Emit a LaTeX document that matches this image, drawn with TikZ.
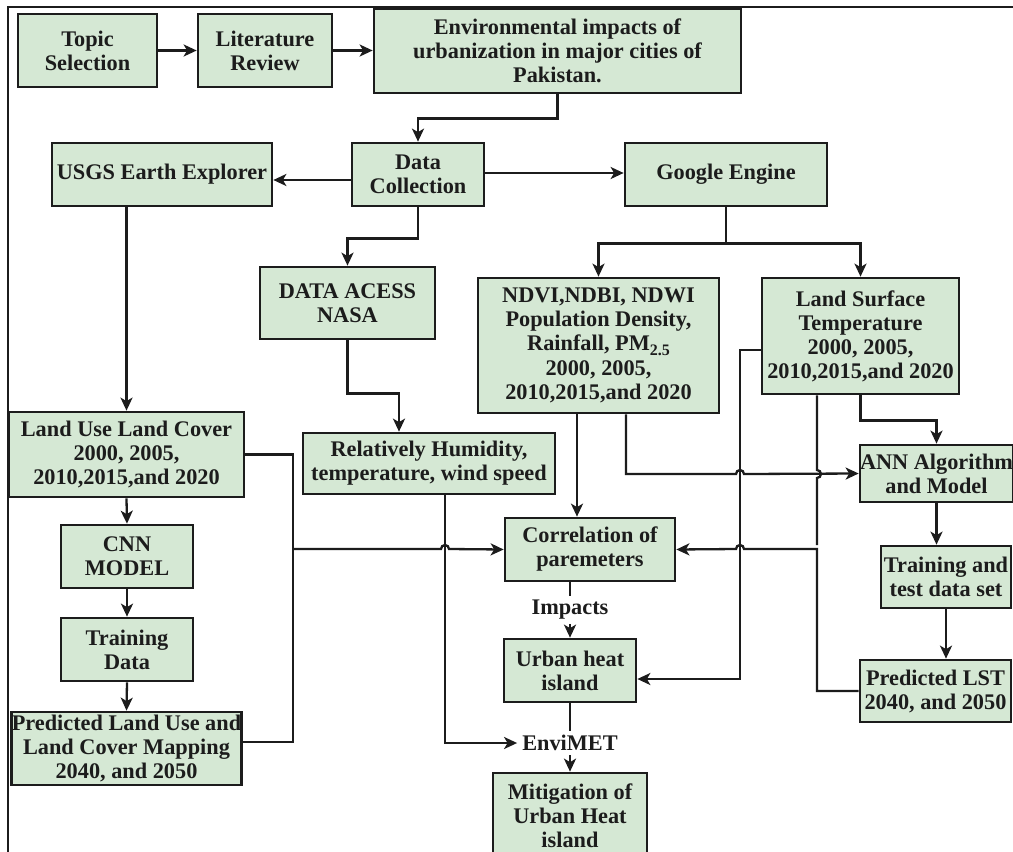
\documentclass[tikz,border=0pt]{standalone}
\usepackage{fontspec}
\setmainfont{Liberation Serif}
\usetikzlibrary{arrows.meta}
\definecolor{boxgreen}{HTML}{D5E8D4}
\definecolor{ink}{HTML}{1C1C1C}
\begin{document}
\begin{tikzpicture}[x=1pt,y=-1pt,
  box/.style={draw=ink, line width=2.7pt, fill=boxgreen, align=center, inner sep=0pt, text=ink,
    font=\fontsize{22.3}{24}\selectfont\bfseries},
  lbl/.style={fill=white, inner xsep=5pt, inner ysep=4pt, text=ink,
    font=\fontsize{22.3}{24}\selectfont\bfseries},
  wire/.style={draw=ink, line width=2.3pt},
  arr/.style={wire, -{Stealth[length=13pt,width=12pt,inset=3.5pt]}}]
\useasboundingbox (0,0) rectangle (1013,852);
\clip (0,0) rectangle (1013,852);
\fill[white] (0,0) rectangle (1013,852);
\draw[ink, line width=1.8pt] (1013,7) -- (8,7) -- (8,852);

% nodes
\node[box, minimum width=139pt, minimum height=73pt] (topic) at (87.5,50.5) {Topic\\Selection};
\node[box, minimum width=134pt, minimum height=73pt] (lit) at (265,50.5) {Literature\\Review};
\node[box, minimum width=367pt, minimum height=84pt] (env) at (557.5,51) {Environmental impacts of\\urbanization in major cities of\\Pakistan.};
\node[box, minimum width=132pt, minimum height=63pt] (dc) at (418,174.5) {Data\\Collection};
\node[box, minimum width=220pt, minimum height=63pt] (usgs) at (162,174.5) {USGS Earth Explorer};
\node[box, minimum width=202pt, minimum height=63pt] (ge) at (726,174.5) {Google Engine};
\node[box, minimum width=175pt, minimum height=72pt] (nasa) at (347.5,303) {DATA ACESS\\NASA};
\node[box, minimum width=241pt, minimum height=135pt] (ndvi) at (598.5,345.5) {NDVI,NDBI, NDWI\\Population Density,\\Rainfall, PM\raisebox{-5pt}{\fontsize{16}{16}\selectfont 2.5}\\[1pt]2000, 2005,\\2010,2015,and 2020};
\node[box, minimum width=197pt, minimum height=116pt] (lst) at (860.5,336) {Land Surface\\Temperature\\2000, 2005,\\2010,2015,and 2020};
\node[box, minimum width=252pt, minimum height=61pt] (rh) at (429,463.5) {Relatively Humidity,\\temperature, wind speed};
\node[box, minimum width=235pt, minimum height=85pt] (lulc) at (126.5,454.5) {Land Use Land Cover\\2000, 2005,\\2010,2015,and 2020};
\node[box, minimum width=151pt, minimum height=57pt] (ann) at (936.5,473.5) {ANN Algorithm\\and Model};
\node[box, minimum width=132pt, minimum height=63pt] (cnn) at (127,556.5) {CNN\\MODEL};
\node[box, minimum width=170pt, minimum height=63pt] (corr) at (590,549.5) {Correlation of\\paremeters};
\node[box, minimum width=130pt, minimum height=62pt] (train) at (946,577) {Training and\\test data set};
\node[box, minimum width=151pt, minimum height=62pt] (plst) at (935.5,691) {Predicted LST\\2040, and 2050};
\node[box, minimum width=132pt, minimum height=63pt] (tdata) at (127,649.5) {Training\\Data};
\node[box, minimum width=229pt, minimum height=73pt] (plulc) at (126.5,748.5) {Predicted Land Use and\\Land Cover Mapping\\2040, and 2050};
\node[box, minimum width=132pt, minimum height=63pt] (uhi) at (570,670.5) {Urban heat\\island};
\node[box, minimum width=154pt, minimum height=86pt] (mitig) at (570,816) {Mitigation of\\Urban Heat\\island};
\node[lbl] (imp) at (570,610) {Impacts};
\node[lbl] (envm) at (570,743) {EnviMET};

% connectors
\draw[arr] (topic.east) -- (lit.west);
\draw[arr] (lit.east) -- (lit.east -| env.west);
\draw[arr] (env.south) -- ++(0,24) -| (dc.north);
\draw[arr] ([yshift=-5.5pt]dc.west) -- ([yshift=-5.5pt]usgs.east);
\draw[arr] ([yshift=1.5pt]dc.east) -- ([yshift=1.5pt]ge.west);
\draw[arr] (dc.south) -- ++(0,31) -| (nasa.north);
\coordinate (split) at ([yshift=-36pt]ge.south);
\draw[wire] (ge.south) -- (split);
\draw[arr] (split) -| (ndvi.north);
\draw[arr] (split) -| (lst.north);
\draw[arr] (usgs.south -| lulc.north) -- (lulc.north);
\draw[arr] (nasa.south) -- ++(0,53) -| ([xshift=-30pt]rh.north);
\draw[arr] (lulc.south) -- (cnn.north);
\draw[arr] (cnn.south) -- (tdata.north);
\draw[arr] (tdata.south) -- (plulc.north);
\draw[wire] (lulc.east) -| (293,742) -- ([yshift=6.5pt]plulc.east);
\draw[arr] (293,549) -- (441,549) arc[start angle=180,end angle=0,radius=4pt] -- (corr.west);
\draw[arr] ([xshift=16pt]rh.south) |- (envm.west);
\draw[arr] ([xshift=-21.5pt]ndvi.south) -- ([xshift=-21.5pt]ndvi.south |- corr.north);
\draw[arr] ([xshift=27.5pt]ndvi.south) |- (736,474) arc[start angle=180,end angle=0,radius=4pt] -- (ann.west);
\draw[arr] ([yshift=-14pt]lst.west) -- (740,350) -- (740,679) -- ([yshift=-8.5pt]uhi.east);
\draw[wire] ([xshift=-43.5pt]lst.south) -- (817,470) arc[start angle=90,end angle=-90,radius=4pt] -- (817,545);
\draw[arr] (lst.south) -- ++(0,25) -| (ann.north);
\draw[arr] (ann.south) -- (ann.south |- train.north);
\draw[arr] (train.south) -- (train.south |- plst.north);
\draw[arr] (plst.west) -- (817,691) -- (817,549) -- (744,549) arc[start angle=0,end angle=180,radius=4pt] -- (corr.east);
\draw[wire] (imp.north |- corr.south) -- (imp.north);
\draw[arr] (imp.south) -- (uhi.north);
\draw[wire] (uhi.south) -- (envm.north);
\draw[arr] (envm.south) -- (mitig.north);
\end{tikzpicture}
\end{document}
